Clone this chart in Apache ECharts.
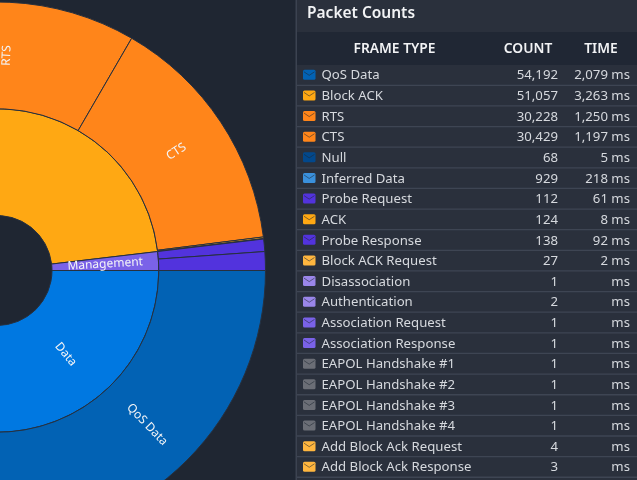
<!DOCTYPE html>
<html>
<head>
<meta charset="utf-8">
<style>
  html, body { margin: 0; padding: 0; background: #1f2632; overflow: hidden; }
  #chart { width: 637px; height: 480px; }
</style>
<script src="https://cdn.jsdelivr.net/npm/echarts@6/dist/echarts.min.js"></script>
</head>
<body>
<div id="chart"></div>
<script>
const frameTypes = ["QoS Data", "Block ACK", "RTS", "CTS", "Null", "Inferred Data", "Probe Request", "ACK", "Probe Response", "Block ACK Request", "Disassociation", "Authentication", "Association Request", "Association Response", "EAPOL Handshake #1", "EAPOL Handshake #2", "EAPOL Handshake #3", "EAPOL Handshake #4", "Add Block Ack Request", "Add Block Ack Response"];
const counts = [54192, 51057, 30228, 30429, 68, 929, 112, 124, 138, 27, 1, 2, 1, 1, 1, 1, 1, 1, 4, 3];
const times = [2079, 3263, 1250, 1197, 5, 218, 61, 8, 92, 2, null, null, null, null, null, null, null, null, null, null];
const frameGroups = ["Data", "Control", "Control", "Control", "Data", "Data", "Management", "Control", "Management", "Control", "Management", "Management", "Management", "Management", "Data", "Data", "Data", "Data", "Control", "Control"];
const frameColors = ["#0262b4", "#ffa813", "#ff851a", "#ff851a", "#02488c", "#3a90dc", "#5233dd", "#ffa813", "#5233dd", "#ffb63f", "#9a86ea", "#9a86ea", "#7a62e8", "#7a62e8", "#6b6e76", "#6b6e76", "#6b6e76", "#6b6e76", "#ffb63f", "#ffb63f"];

const groupNames = ["Data", "Control", "Management"];
const groupColors = ["#0078e1", "#ffa813", "#7a62e8"];

const sunData = groupNames.map((name, g) => ({
  name,
  itemStyle: { color: groupColors[g] },
  children: frameTypes
    .map((type, i) => ({ name: type, value: times[i], group: frameGroups[i], itemStyle: { color: frameColors[i] } }))
    .filter((d) => d.group === name && d.value)
}));

const FONT = '"Noto Sans", sans-serif';
const fmt = (n) => n.toLocaleString("en-US");

const text = (str, x, y, align, size, weight, fill) => ({
  type: "text",
  silent: true,
  style: { text: str, x, y, fill, align, verticalAlign: "middle", font: `${weight} ${size}px ${FONT}` }
});
const rect = (x, y, width, height, fill, r) => ({
  type: "rect",
  silent: true,
  shape: { x, y, width, height, r: r || 0 },
  style: { fill }
});

// table on the right
const rowTop = 65;
const rowH = 20.63;
const table = [
  rect(296, 0, 341, 480, "#2a303c"),
  rect(296, 32, 341, 33, "#202734"),
  rect(295.5, 0, 1.5, 480, "#3c4351"),
  text("Packet Counts", 307, 13.5, "left", 15.5, 600, "#f2f3f5"),
  text("FRAME TYPE", 394.5, 49.5, "center", 13.8, 600, "#f2f3f5"),
  text("COUNT", 528, 49.5, "center", 13.8, 600, "#f2f3f5"),
  text("TIME", 601, 49.5, "center", 13.8, 600, "#f2f3f5")
];
frameTypes.forEach((type, i) => {
  const y = rowTop + rowH * i + rowH / 2;
  table.push(
    rect(297, rowTop + rowH * (i + 1) - 1, 340, 1.3, "#3e4553"),
    rect(303, y - 5.5, 12.5, 10, frameColors[i], 1.5),
    {
      type: "polyline",
      silent: true,
      shape: { points: [[304, y - 3.5], [309.2, y], [314.5, y - 3.5]] },
      style: { stroke: "rgba(30,38,50,0.55)", lineWidth: 1, fill: null }
    },
    text(type, 321.5, y + 0.4, "left", 13.2, 400, "#d6d9de"),
    text(fmt(counts[i]), 558, y + 0.4, "right", 13.2, 400, "#d6d9de"),
    text((times[i] ? fmt(times[i]) + " " : "") + "ms", 630, y + 0.4, "right", 13.2, 400, "#d6d9de")
  );
});

const chart = echarts.init(document.getElementById("chart"));
chart.setOption({
  backgroundColor: "#1f2632",
  animation: false,
  graphic: { elements: table },
  series: [
    {
      type: "sunburst",
      center: [-3, 270.5],
      radius: [55, 268.5],
      startAngle: 0,
      clockwise: true,
      sort: null,
      nodeClick: false,
      emphasis: { disabled: true },
      data: sunData,
      itemStyle: { borderColor: "#27303e", borderWidth: 1 },
      label: { color: "#f4f5f7", fontSize: 12, fontFamily: FONT, rotate: "radial" },
      levels: [
        {},
        { label: { minAngle: 0 } },
        { label: { minAngle: 8 } }
      ]
    }
  ]
});
</script>
</body>
</html>
